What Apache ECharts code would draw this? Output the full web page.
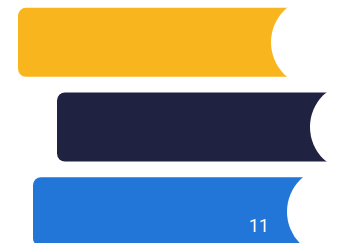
<!DOCTYPE html>
<html>
<head>
<meta charset="utf-8">
<script src="https://cdn.jsdelivr.net/npm/echarts@6/dist/echarts.min.js"></script>
<style>
html, body { margin: 0; padding: 0; background: #fff; }
#container { width: 337px; height: 243px; }
</style>
</head>
<body>
<div id="container"></div>
<script>
// 三条横向色条，右端被白色圆形"咬"掉一块
var categories = ['A', 'B', 'C'];
var starts = [18, 57, 33];      // 每条起点（透明占位）
var ends = [316, 355, 332];     // 每条终点（白色圆心）
var colors = ['#F9B51E', '#1F2241', '#2276D8'];
var labels = ['', '', '11'];

var dom = document.getElementById('container');
var myChart = echarts.init(dom);

var option = {
	animation: false,
	grid: {
		left: 0,
		top: 0,
		width: 400,
		height: 254,
		outerBoundsMode: 'none'
	},
	xAxis: {
		type: 'value',
		min: 0,
		max: 400,
		show: false
	},
	yAxis: {
		type: 'category',
		inverse: true,
		data: categories,
		show: false
	},
	series: [{
			// 透明底座
			type: 'bar',
			stack: 'total',
			barWidth: 69,
			itemStyle: {
				color: 'transparent'
			},
			data: starts
		},
		{
			type: 'bar',
			stack: 'total',
			barWidth: 69,
			data: ends.map(function(e, i) {
				return {
					value: e - starts[i],
					itemStyle: {
						color: colors[i],
						borderRadius: [8, 0, 0, 8]
					},
					label: {
						show: labels[i] !== '',
						formatter: labels[i],
						position: [226, 50],
						align: 'center',
						verticalAlign: 'middle',
						color: '#fff',
						fontSize: 18,
						fontFamily: 'Roboto'
					}
				};
			})
		},
		{
			// 右端白色圆
			type: 'scatter',
			symbol: 'circle',
			symbolSize: 90,
			z: 5,
			itemStyle: {
				color: '#fff',
				opacity: 1
			},
			data: ends.map(function(e, i) {
				return [e, i];
			})
		}
	]
};
myChart.setOption(option);
</script>
</body>
</html>
